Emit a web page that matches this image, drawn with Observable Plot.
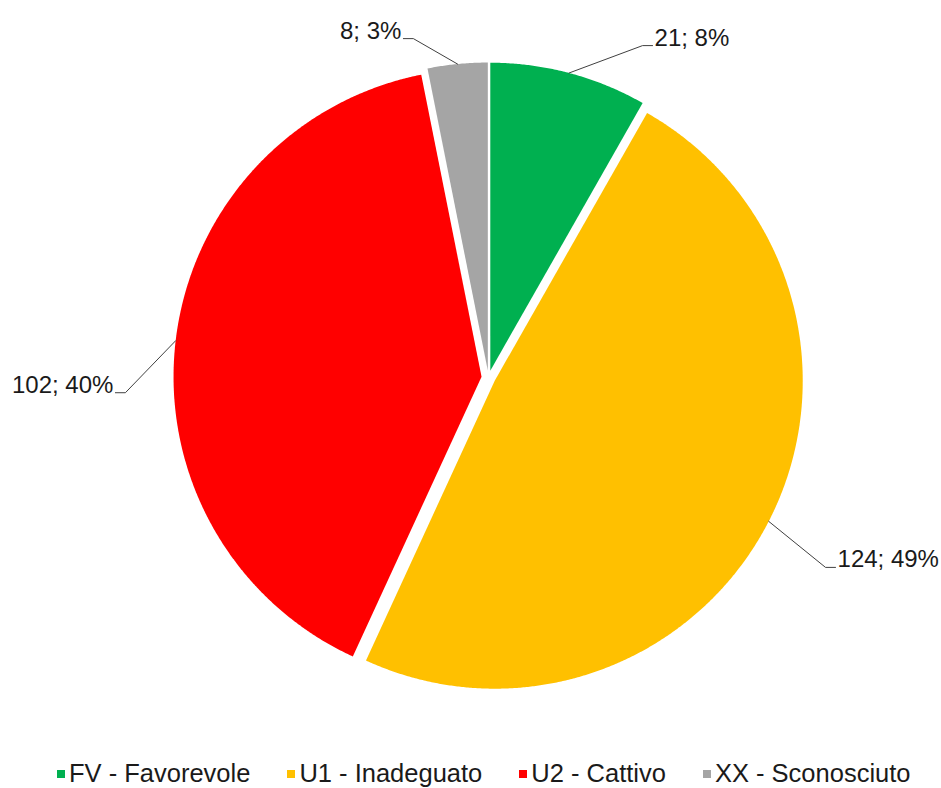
<!DOCTYPE html>
<html><head><meta charset="utf-8">
<script src="https://cdn.jsdelivr.net/npm/d3@7"></script>
<script src="https://cdn.jsdelivr.net/npm/@observablehq/plot@0.6"></script>
<style>
body{margin:0;background:#fff;font-family:"Liberation Sans",Arial,sans-serif;}
#legend{display:flex;gap:37px;padding-left:57px;font-size:25.5px;line-height:28px;color:#1a1a1a;white-space:nowrap;}
.item{display:flex;align-items:center;}
.sw{width:8px;height:8px;margin-right:4px;margin-top:2px;}
</style></head><body><div id="chart"></div><div id="legend"></div>
<script>
// ---- data ----
const categories = ["FV - Favorevole", "U1 - Inadeguato", "U2 - Cattivo", "XX - Sconosciuto"];
const counts = [21, 124, 102, 8];
const colors = ["#00B050", "#FFC000", "#FF0000", "#A5A5A5"];

// ---- layout (not data) ----
const W = 941, H = 759, CX = 488, CY = 377, R = 308, EXPLODE = 7;
const labelAngle = [24.9, 119.4, 267.6, 347.5];   // degrees, clockwise from 12 o'clock
const labelRadius = [1.188, 1.256, 1.18, 1.127];  // in pie radii
const labelSide = [1, 1, -1, -1];
const TAIL = 10, TEXT_GAP = 2;

const total = d3.sum(counts);
const arcs = d3.pie().sort(null).value(d => d)(counts);
const ex = EXPLODE / R;

const slices = arcs.map((a, i) => {
  const mid = (a.startAngle + a.endAngle) / 2;
  const ox = ex * Math.sin(mid), oy = ex * Math.cos(mid);
  const pts = [{x: ox, y: oy}];
  const n = Math.max(8, Math.ceil((a.endAngle - a.startAngle) / 0.005));
  for (let k = 0; k <= n; k++) {
    const t = a.startAngle + (a.endAngle - a.startAngle) * k / n;
    pts.push({x: ox + Math.sin(t), y: oy + Math.cos(t)});
  }
  const la = labelAngle[i] * Math.PI / 180;
  const ePt = {x: labelRadius[i] * Math.sin(la), y: labelRadius[i] * Math.cos(la)};
  const tPt = {x: ePt.x + labelSide[i] * TAIL / R, y: ePt.y};
  const leader = [{x: ox + Math.sin(mid), y: oy + Math.cos(mid)}, ePt, tPt];
  const pct = Math.round(counts[i] / total * 100);
  return {i, pts, leader, tPt, label: `${counts[i]}; ${pct}%`, color: colors[i]};
});

const marks = [];
slices.forEach(s => marks.push(Plot.line(s.pts, {x: "x", y: "y", fill: s.color, stroke: "none", curve: "linear-closed"})));
slices.forEach(s => marks.push(Plot.line(s.leader, {x: "x", y: "y", stroke: "#404040", strokeWidth: 1})));
[1, -1].forEach(side => marks.push(Plot.text(slices.filter(s => labelSide[s.i] === side), {
  x: d => d.tPt.x, y: d => d.tPt.y, text: "label",
  textAnchor: side > 0 ? "start" : "end", dx: side * TEXT_GAP,
  lineAnchor: "bottom", fontSize: 24, fill: "#1a1a1a"
})));

const chart = Plot.plot({
  width: W, height: H, margin: 0,
  x: {domain: [-CX / R, (W - CX) / R], axis: null},
  y: {domain: [-(H - CY) / R, CY / R], axis: null},
  style: {fontFamily: "'Liberation Sans', Arial, sans-serif", background: "#fff"},
  marks
});
document.getElementById("chart").appendChild(chart);

const legend = document.getElementById("legend");
categories.forEach((c, i) => {
  const it = document.createElement("div"); it.className = "item";
  const sw = document.createElement("span"); sw.className = "sw"; sw.style.background = colors[i];
  const tx = document.createElement("span"); tx.textContent = c;
  it.appendChild(sw); it.appendChild(tx); legend.appendChild(it);
});
</script></body></html>
